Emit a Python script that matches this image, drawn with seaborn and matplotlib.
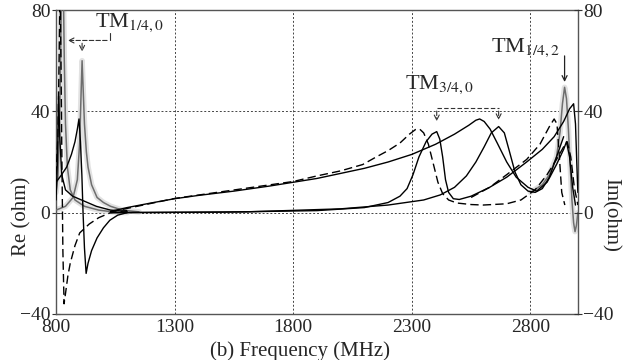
import matplotlib
matplotlib.use("Agg")
import matplotlib.pyplot as plt
import seaborn as sns

# ---- data (frequency in MHz, value in ohm) ----
x_ticks = [800, 1300, 1800, 2300, 2800]
y_ticks = [-40, 0, 40, 80]

# low-frequency resonances
re_a_f = [800, 808, 814, 819, 824, 830, 835, 840, 848, 860, 880, 920, 980, 1040, 1100]
re_a_v = [8, 14, 30, 60, 95, 95, 60, 35, 18, 9, 5, 2.5, 1, 0.3, 0]

im_a_f = [800, 808, 813, 817, 821, 825, 829, 834, 840, 850, 860, 880, 900, 940, 980, 1030, 1100]
im_a_v = [15, 30, 60, 90, 60, 20, -15, -36, -32, -25, -20, -13, -8, -4.5, -2, 0, 0.8]

pk_c_f = [800, 806, 811, 816, 824, 840, 870, 920, 970, 1030, 1100]
pk_c_v = [5, 20, 46, 30, 15, 9, 6.5, 4.5, 2.5, 1, 0.5]

re_b_f = [800, 840, 872, 890, 900, 906, 910, 914, 920, 928, 935, 950, 973, 1000, 1030, 1080, 1150]
re_b_v = [1, 2.5, 6, 13, 28, 48, 60, 50, 35, 24, 18, 11, 6, 4, 2.5, 1, 0.3]

im_b_f = [800, 820, 845, 865, 880, 890, 897, 903, 909, 914, 920, 927, 935, 950, 973, 1000, 1027, 1060, 1100]
im_b_v = [12, 14.5, 18, 23, 28, 33, 37, 28, 15, 0, -14, -24, -20, -15, -10, -6, -3, -1, 0]

# long curves towards the high-frequency modes
l1_f = [1030, 1100, 1200, 1300, 1400, 1550, 1700, 1800, 1900, 2000, 2100, 2200, 2300,
        2400, 2480, 2540, 2570, 2586, 2605, 2630, 2660, 2700, 2740, 2790, 2826, 2870,
        2910, 2940, 2952, 2965, 2978, 2990]
l1_v = [0.5, 2, 3.8, 5.5, 6.8, 8.5, 10.5, 12, 13.5, 15.5, 17.5, 20, 23,
        27, 31, 34.5, 36.5, 37, 36, 33, 27.5, 20, 14, 10, 8.5, 12,
        19, 25, 28, 22, 10, 3]

l2_f = [1030, 1300, 1800, 1900, 2000, 2093, 2150, 2200, 2250, 2290, 2315, 2333, 2350,
        2370, 2390, 2410, 2430, 2455, 2490, 2550, 2600, 2700, 2760, 2820, 2870, 2910,
        2940, 2955, 2970, 2985, 3000]
l2_v = [0.3, 5.6, 12.3, 14.5, 16.5, 19, 22, 24.5, 27.5, 31, 32.8, 33, 31.5,
        27, 19.5, 12, 7.5, 5, 3.8, 3.2, 3, 3.5, 5, 9, 15, 21,
        26, 28, 22, 10, 3]

l3_f = [1030, 1500, 1900, 2100, 2200, 2250, 2280, 2305, 2330, 2360, 2385, 2405, 2418,
        2430, 2442, 2455, 2475, 2500, 2550, 2628, 2700, 2784, 2850, 2900, 2940, 2965,
        2982, 2990, 2996, 3000]
l3_v = [0, 0.2, 0.8, 2, 4, 6.5, 9.5, 15, 22, 28, 31, 32, 29,
        22, 13, 8, 5.5, 5.2, 6.5, 10, 14, 20, 25, 30, 36, 41,
        43, 35, 18, 8]

l4_f = [1030, 1600, 2000, 2200, 2350, 2420, 2480, 2530, 2570, 2605, 2635, 2666, 2690,
        2712, 2735, 2760, 2790, 2820, 2850, 2880, 2910, 2940]
l4_v = [0, 0.3, 1.5, 3, 5, 7, 10, 14.5, 20, 26, 31.5, 34, 31.5,
        24, 16, 11, 8.5, 8, 9.5, 14, 22, 30]

l5_f = [2550, 2628, 2700, 2784, 2840, 2880, 2900, 2912, 2922, 2932, 2945]
l5_v = [6, 10, 15, 21, 27, 34, 37, 35, 22, 8, 3]

tm142_f = [2800, 2850, 2880, 2910, 2925, 2935, 2944, 2952, 2960, 2968, 2975, 2982, 2988, 2994, 3000]
tm142_v = [8, 11, 15, 22, 32, 43, 49.5, 45, 33, 18, 5, -4, -7.5, -5, 0]

# ---- styling ----
sns.set_theme(style="white")
plt.rcParams["font.family"] = ["Liberation Serif", "DejaVu Serif"]
plt.rcParams["mathtext.fontset"] = "stix"

fig = plt.figure(figsize=(6.25, 3.6), dpi=100)
ax = fig.add_axes([0.0896, 0.128, 0.835, 0.844])

halo = "#e2e2e2"
gray = "#6e6e6e"
dash = (0, (6, 3))

curves = [
    # (freqs, values, colour, linestyle, width, halo)
    (re_a_f, re_a_v, gray, "-", 1.1, True),
    (re_b_f, re_b_v, gray, "-", 1.1, True),
    (tm142_f, tm142_v, gray, "-", 1.1, True),
    (im_a_f, im_a_v, "black", dash, 1.0, False),
    (pk_c_f, pk_c_v, "black", "-", 1.0, False),
    (im_b_f, im_b_v, "black", "-", 1.0, False),
    (l1_f, l1_v, "black", "-", 1.0, False),
    (l2_f, l2_v, "black", dash, 1.0, False),
    (l3_f, l3_v, "black", "-", 1.0, False),
    (l4_f, l4_v, "black", "-", 1.0, False),
    (l5_f, l5_v, "black", dash, 1.0, False),
]

for f, v, c, ls, lw, h in curves:
    if h:
        sns.lineplot(x=f, y=v, ax=ax, color=halo, lw=4, sort=False, estimator=None, zorder=1)
for f, v, c, ls, lw, h in curves:
    sns.lineplot(x=f, y=v, ax=ax, color=c, lw=lw, linestyle=ls, sort=False,
                 estimator=None, zorder=3)

ax.set_xlim(800, 3000)
ax.set_ylim(-40, 80)
ax.set_xticks(x_ticks)
ax.set_yticks(y_ticks)
ax.grid(True, color="#444444", linestyle=(0, (2, 2)), lw=0.7)
for s in ax.spines.values():
    s.set_color("#555555")
    s.set_linewidth(1.0)
ax.tick_params(labelsize=14, direction="inout", length=6, width=0.8, color="#333333", pad=1)

ax2 = ax.twinx()
ax2.set_ylim(-40, 80)
ax2.set_yticks(y_ticks)
ax2.tick_params(labelsize=14, direction="inout", length=6, width=0.8, color="#333333", pad=1)
for s in ax2.spines.values():
    s.set_visible(False)

ax.set_xlabel("(b) Frequency (MHz)", fontsize=15)
ax.xaxis.set_label_coords(0.467, -0.09)
ax.set_ylabel("Re (ohm)", fontsize=15)
ax.yaxis.set_label_coords(-0.047, 0.32)
ax2.set_ylabel("Im(ohm)", fontsize=15, rotation=270)
ax2.yaxis.set_label_coords(1.08, 0.326)

# ---- mode labels ----
arrow = dict(arrowstyle="->", color="#333333", lw=0.8, linestyle=(0, (4, 2)), mutation_scale=9)
ax.text(1112, 75, r"TM$_{1/4,0}$", fontsize=16, ha="center", va="center")
ax.plot([1027, 1027], [68, 71], color="#333333", lw=0.8)
ax.annotate("", xy=(838, 68), xytext=(1027, 68), arrowprops=arrow)
ax.annotate("", xy=(910, 62.5), xytext=(910, 68), arrowprops=arrow)

ax.text(2418, 50.5, r"TM$_{3/4,0}$", fontsize=16, ha="center", va="center")
ax.plot([2405, 2666], [41.2, 41.2], color="#333333", lw=0.8, linestyle=(0, (4, 2)))
ax.annotate("", xy=(2405, 35), xytext=(2405, 41.2), arrowprops=arrow)
ax.annotate("", xy=(2666, 35.5), xytext=(2666, 41.2), arrowprops=arrow)

ax.text(2780, 65, r"TM$_{1/4,2}$", fontsize=16, ha="center", va="center")
ax.annotate("", xy=(2944, 50.5), xytext=(2944, 63),
            arrowprops=dict(arrowstyle="->", color="#222222", lw=0.9, mutation_scale=9))

fig.savefig("out.png", dpi=100)
